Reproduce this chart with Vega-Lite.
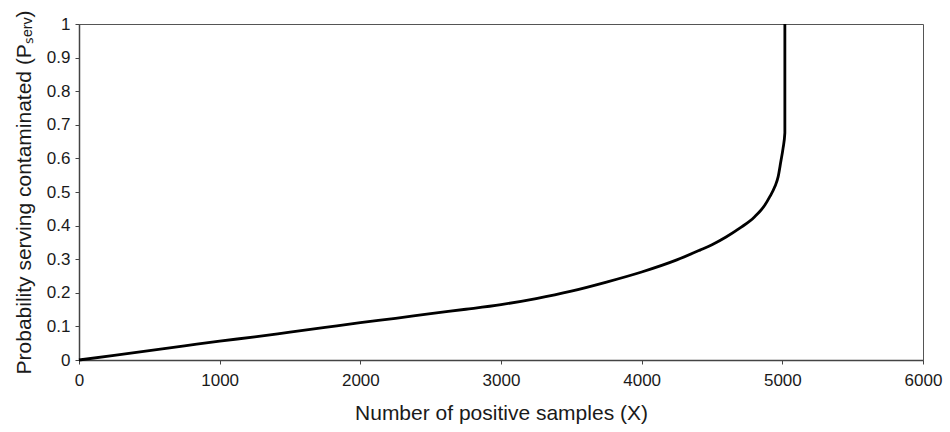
{
  "$schema": "https://vega.github.io/schema/vega-lite/v6.json",
  "autosize": "none",
  "padding": {"left": 79, "top": 24, "right": 27, "bottom": 72},
  "width": 844,
  "height": 336,
  "background": "white",
  "config": {
    "view": {"stroke": "#555555", "strokeWidth": 1},
    "font": "Liberation Sans",
    "axis": {
      "grid": false,
      "domainColor": "#444444",
      "domainWidth": 1.5,
      "tickColor": "#444444",
      "tickSize": 4,
      "labelColor": "#1a1a1a",
      "titleColor": "#1a1a1a",
      "labelFont": "Liberation Sans",
      "titleFont": "Liberation Sans",
      "labelFontSize": 17,
      "titleFontSize": 21,
      "titleFontWeight": "normal"
    }
  },
  "data": {
    "values": [
      {"i": 0, "x": 0, "p": 0},
      {"i": 1, "x": 250, "p": 0.014},
      {"i": 2, "x": 500, "p": 0.028},
      {"i": 3, "x": 750, "p": 0.042},
      {"i": 4, "x": 1000, "p": 0.056},
      {"i": 5, "x": 1250, "p": 0.069},
      {"i": 6, "x": 1500, "p": 0.083},
      {"i": 7, "x": 1750, "p": 0.097},
      {"i": 8, "x": 2000, "p": 0.111},
      {"i": 9, "x": 2250, "p": 0.124},
      {"i": 10, "x": 2500, "p": 0.138},
      {"i": 11, "x": 2750, "p": 0.151},
      {"i": 12, "x": 3000, "p": 0.165},
      {"i": 13, "x": 3250, "p": 0.183},
      {"i": 14, "x": 3500, "p": 0.205},
      {"i": 15, "x": 3750, "p": 0.232},
      {"i": 16, "x": 4000, "p": 0.262},
      {"i": 17, "x": 4250, "p": 0.298},
      {"i": 18, "x": 4414, "p": 0.327},
      {"i": 19, "x": 4500, "p": 0.343},
      {"i": 20, "x": 4600, "p": 0.366},
      {"i": 21, "x": 4700, "p": 0.393},
      {"i": 22, "x": 4800, "p": 0.425},
      {"i": 23, "x": 4876, "p": 0.461},
      {"i": 24, "x": 4911, "p": 0.486},
      {"i": 25, "x": 4947, "p": 0.516},
      {"i": 26, "x": 4970, "p": 0.545},
      {"i": 27, "x": 4989, "p": 0.59},
      {"i": 28, "x": 5005, "p": 0.63},
      {"i": 29, "x": 5018, "p": 0.676},
      {"i": 30, "x": 5018, "p": 1.0}
    ]
  },
  "mark": {"type": "line", "color": "#000000", "strokeWidth": 2.8, "interpolate": "monotone"},
  "encoding": {
    "order": {"field": "i", "type": "quantitative"},
    "x": {
      "field": "x",
      "type": "quantitative",
      "scale": {"domain": [0, 6000], "nice": false, "zero": true},
      "axis": {"values": [0, 1000, 2000, 3000, 4000, 5000, 6000], "format": "d", "title": "Number of positive samples (X)", "labelPadding": 8, "titlePadding": 14, "labelFlush": false, "labelOverlap": false}
    },
    "y": {
      "field": "p",
      "type": "quantitative",
      "scale": {"domain": [0, 1], "nice": false},
      "axis": {"values": [0, 0.1, 0.2, 0.3, 0.4, 0.5, 0.6, 0.7, 0.8, 0.9, 1], "title": "Probability serving contaminated (Pₛₑᵣᵥ)", "labelPadding": 5, "titlePadding": 12, "labelFlush": false, "labelOverlap": false, "format": "~g"}
    }
  }
}
